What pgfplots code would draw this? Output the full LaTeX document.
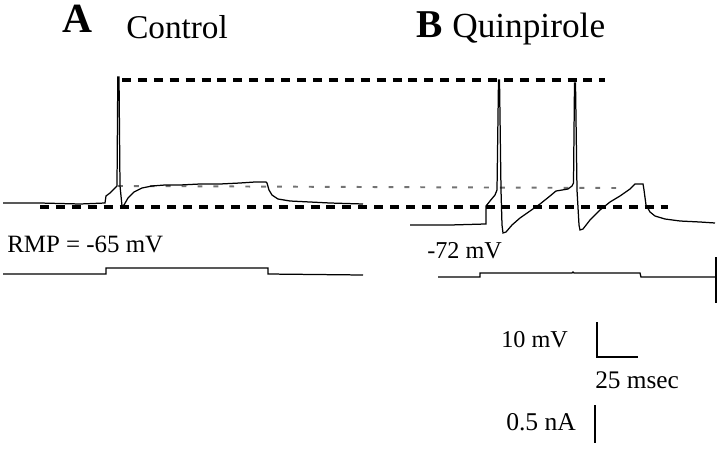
\documentclass[border=0pt]{standalone}
\usepackage{pgfplots}
\pgfplotsset{compat=1.18}
\usepackage{fontspec}
\setmainfont{Liberation Serif}
\begin{document}
\begin{tikzpicture}
\begin{axis}[width=7.2in,height=4.48in,scale only axis,
  xmin=0,xmax=720,ymin=0,ymax=448,y dir=reverse,
  hide axis,clip=false]
% bounding frame (invisible)
\addplot[draw=none,forget plot] coordinates {(0,0) (720,448)};
% reference lines
\addplot[black,line width=2.4pt,dash pattern=on 6.5pt off 5pt] coordinates {(122,80) (605,80)};
\addplot[black!55,line width=1.4pt,dash pattern=on 3.5pt off 8pt] coordinates {(118,186) (617,188)};
\addplot[black,line width=2.4pt,dash pattern=on 6.5pt off 5pt] coordinates {(40,207) (668,207)};
% A: control voltage trace
\addplot[black,line width=0.9pt] coordinates {
(3,203) (40,203) (80,204) (105,203) (106,196) (110,193) (114,189) (117,186)
(117.8,77) (119,77) (120,186) (122,206) (124,205) (128,198) (134,192) (142,188)
(152,186) (165,185) (180,185) (200,184) (220,184) (240,183) (255,182) (266,182)
(267,183) (269,190) (272,195) (278,199) (290,201) (310,202) (330,203) (363,204)};
% A: current trace
\addplot[black,line width=0.9pt] coordinates {
(3,274) (106,274) (106,268) (268,268) (268,274) (363,275)};
% B: quinpirole voltage trace
\addplot[black,line width=0.9pt] coordinates {
(410,225) (450,225) (485,224) (486,224) (486,206) (490,201) (495,195) (497,190)
(498.5,80) (499.5,80) (501,190) (502,225) (503,233) (506,232) (512,225) (520,218)
(530,211) (540,204) (550,196) (556,191) (562,190) (568,189) (572,186) (573.5,183)
(574.5,83) (575.5,83) (577,190) (579,225) (580,230) (583,229) (590,220) (600,210)
(610,202) (620,196) (630,189) (635,184) (643,184) (644,190) (646,205) (650,212)
(655,216) (665,219) (680,221) (700,222) (715,223)};
% B: current trace
\addplot[black,line width=0.9pt] coordinates {
(438,277) (480,277) (480,273) (572,273) (573,272) (574,273) (640,273) (641,277) (716,277)};
\addplot[black,line width=0.9pt] coordinates {(716,257) (716,303)};
% scale bars
\addplot[black,line width=0.9pt] coordinates {(597,322) (597,357) (638,357)};
\addplot[black,line width=1.4pt] coordinates {(595,405) (595,443)};
% labels
\node[anchor=base west,inner sep=0pt,font=\fontsize{30}{34}\selectfont\bfseries] at (axis cs:62,33) {A};
\node[anchor=base west,inner sep=0pt,font=\fontsize{24}{28}\selectfont] at (axis cs:126,39) {Control};
\node[anchor=base west,inner sep=0pt,font=\fontsize{28.5}{34}\selectfont\bfseries] at (axis cs:416,38) {B};
\node[anchor=base west,inner sep=0pt,font=\fontsize{25.5}{28}\selectfont] at (axis cs:452,38) {Quinpirole};
\node[anchor=base west,inner sep=0pt,font=\fontsize{18}{22}\selectfont] at (axis cs:7,252) {RMP = -65 mV};
\node[anchor=base west,inner sep=0pt,font=\fontsize{17.5}{22}\selectfont] at (axis cs:427,258) {-72 mV};
\node[anchor=base west,inner sep=0pt,font=\fontsize{17.5}{22}\selectfont] at (axis cs:501,347) {10 mV};
\node[anchor=base west,inner sep=0pt,font=\fontsize{18.3}{22}\selectfont] at (axis cs:595,388) {25 msec};
\node[anchor=base west,inner sep=0pt,font=\fontsize{18.5}{22}\selectfont] at (axis cs:506,430) {0.5 nA};
\end{axis}
\end{tikzpicture}
\end{document}
